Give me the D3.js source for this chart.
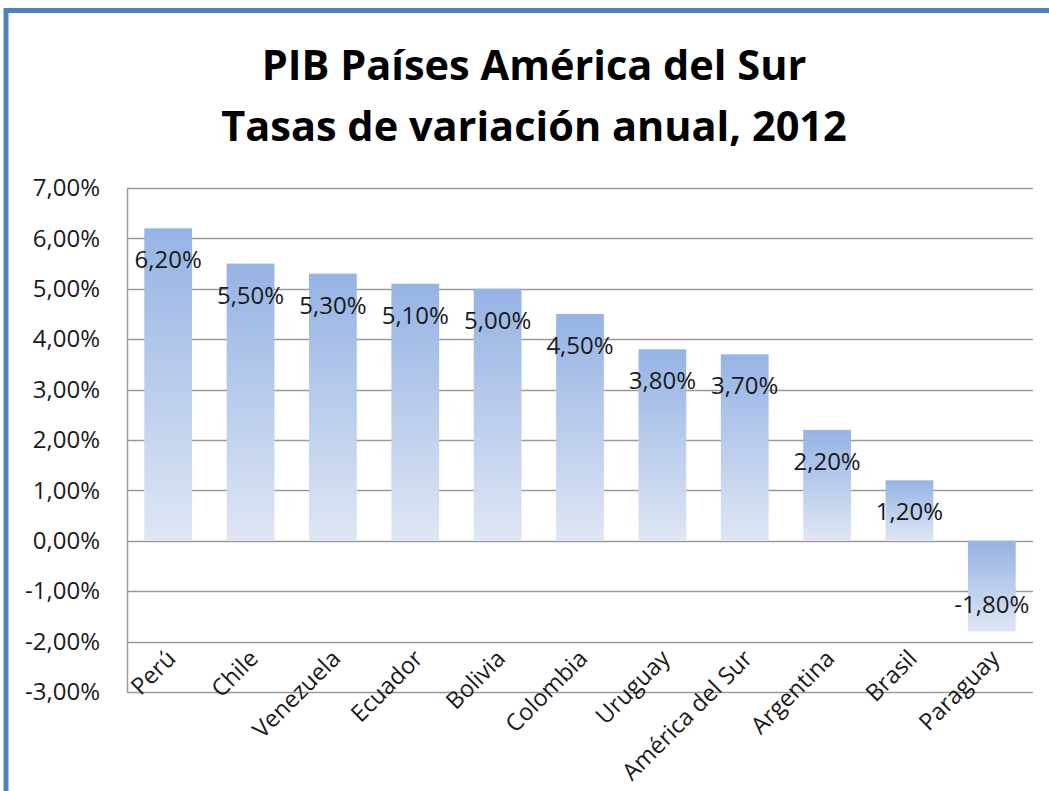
<!DOCTYPE html>
<html>
<head>
<meta charset="utf-8">
<script src="https://cdn.jsdelivr.net/npm/d3@7"></script>
<style>
  body { margin: 0; background: #fff; }
  svg { display: block; font-family: "Open Sans", "Noto Sans", sans-serif; }
  .grid line { stroke: #9a9a9a; stroke-width: 1.5; }
  .ylab text { font-size: 24px; fill: #1a1a1a; }
  .val { font-size: 24px; fill: #1a1a1a; text-anchor: middle; }
  .cat { font-size: 23.5px; fill: #1a1a1a; text-anchor: end; }
  .title { font-size: 41.5px; font-weight: 700; fill: #000; text-anchor: middle; }
</style>
</head>
<body>
<div id="viz"></div>
<script>
const countries = ["Perú", "Chile", "Venezuela", "Ecuador", "Bolivia", "Colombia",
  "Uruguay", "América del Sur", "Argentina", "Brasil", "Paraguay"];
const growth = [6.2, 5.5, 5.3, 5.1, 5.0, 4.5, 3.8, 3.7, 2.2, 1.2, -1.8];
const yTicks = [-3, -2, -1, 0, 1, 2, 3, 4, 5, 6, 7];
const titleLines = ["PIB Países América del Sur", "Tasas de variación anual, 2012"];

const width = 1049;
const height = 791;
const plot = { left: 127, right: 1033, top: 188, bottom: 692 };

const fmt = (v) => d3.format(".2f")(v).replace(".", ",").replace("−", "-") + "%";

const svg = d3.select("#viz").append("svg")
  .attr("width", width)
  .attr("height", height);

// frame
svg.append("rect").attr("width", width).attr("height", height).attr("fill", "#fff");
svg.append("path")
  .attr("d", `M 6 ${height} L 6 10.5 L ${width} 10.5`)
  .attr("fill", "none")
  .attr("stroke", "#4f81bd")
  .attr("stroke-width", 5);

const grad = svg.append("defs").append("linearGradient")
  .attr("id", "barFill")
  .attr("x1", 0).attr("y1", 0).attr("x2", 0).attr("y2", 1);
grad.append("stop").attr("offset", "0%").attr("stop-color", "#95b3e4");
grad.append("stop").attr("offset", "100%").attr("stop-color", "#dfe6f4");

const x = d3.scaleBand()
  .domain(countries)
  .range([plot.left, plot.right])
  .paddingInner(0.42)
  .paddingOuter(0.21);

const y = d3.scaleLinear()
  .domain([d3.min(yTicks), d3.max(yTicks)])
  .range([plot.bottom, plot.top]);

// title
svg.selectAll("text.title")
  .data(titleLines)
  .join("text")
  .attr("class", "title")
  .attr("x", 534)
  .attr("y", (d, i) => 80 + i * 61)
  .text((d) => d);

// gridlines
svg.append("g")
  .attr("class", "grid")
  .selectAll("line")
  .data(yTicks)
  .join("line")
  .attr("x1", plot.left)
  .attr("x2", plot.right)
  .attr("y1", (d) => Math.round(y(d)) + 0.5)
  .attr("y2", (d) => Math.round(y(d)) + 0.5);

svg.append("line")
  .attr("x1", plot.left + 0.5).attr("x2", plot.left + 0.5)
  .attr("y1", plot.top).attr("y2", plot.bottom)
  .attr("stroke", "#9a9a9a").attr("stroke-width", 1.5);

// y axis labels
const yAxis = svg.append("g")
  .attr("class", "ylab")
  .attr("transform", `translate(${plot.left},0)`)
  .call(d3.axisLeft(y).tickValues(yTicks).tickFormat(fmt).tickSize(0).tickPadding(27));
yAxis.attr("font-family", null).attr("font-size", null);
yAxis.select(".domain").remove();
yAxis.selectAll("text").attr("fill", null);

const rows = countries.map((c, i) => ({ c, v: growth[i] }));

// bars
svg.append("g")
  .selectAll("rect")
  .data(rows)
  .join("rect")
  .attr("x", (d) => x(d.c))
  .attr("width", x.bandwidth())
  .attr("y", (d) => y(Math.max(0, d.v)))
  .attr("height", (d) => Math.abs(y(d.v) - y(0)))
  .attr("fill", "url(#barFill)");

// data labels
svg.append("g")
  .selectAll("text")
  .data(rows)
  .join("text")
  .attr("class", "val")
  .attr("x", (d) => x(d.c) + x.bandwidth() / 2)
  .attr("y", (d) => d.v >= 0 ? y(d.v) + 40 : y(d.v) - 19)
  .text((d) => fmt(d.v));

// category labels
svg.append("g")
  .selectAll("text")
  .data(countries)
  .join("text")
  .attr("class", "cat")
  .attr("transform", (d) => `translate(${x(d) + x.bandwidth() / 2 + 9},660) rotate(-45)`)
  .text((d) => d);
</script>
</body>
</html>
